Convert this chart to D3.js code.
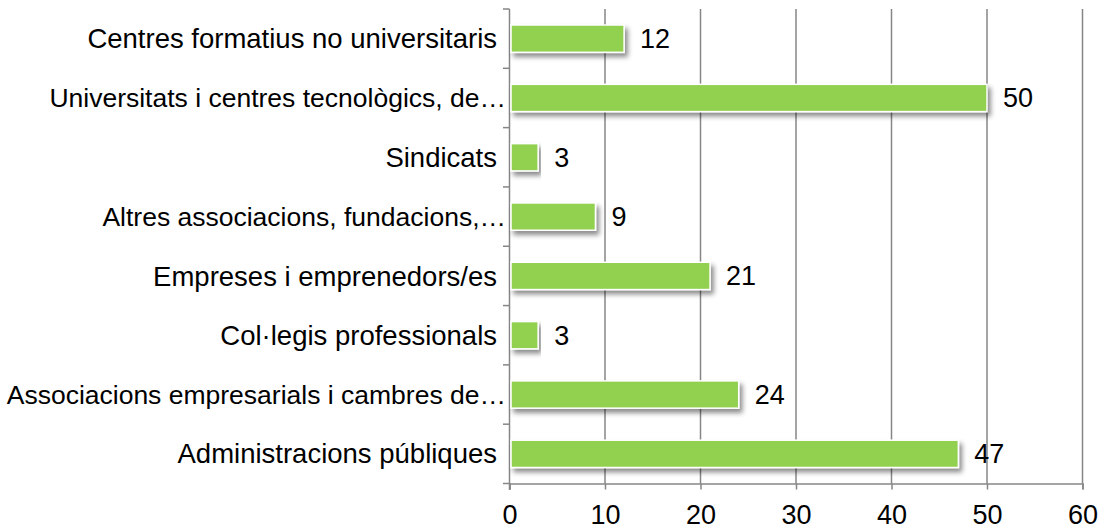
<!doctype html>
<html>
  <head>
    <meta charset="utf-8">
    <script src="https://cdn.jsdelivr.net/npm/d3@7"></script>
    <style>
      body { margin: 0; background: #fff; }
      text { font-family: "Liberation Sans", Arial, sans-serif; fill: #000; }
    </style>
  </head>
  <body>
    <svg width="1105" height="532"></svg>
    <script>
      const categories = [
        "Centres formatius no universitaris",
        "Universitats i centres tecnològics, de…",
        "Sindicats",
        "Altres associacions, fundacions,…",
        "Empreses i emprenedors/es",
        "Col·legis professionals",
        "Associacions empresarials i cambres de…",
        "Administracions públiques"
      ];
      const values = [12, 50, 3, 9, 21, 3, 24, 47];
      const xTicks = [0, 10, 20, 30, 40, 50, 60];

      const svg = d3.select("svg");
      const x = d3.scaleLinear().domain([0, 60]).range([509.5, 1082.5]);
      const y = d3.scaleBand().domain(categories).range([9, 483.5]).paddingInner(0.54).paddingOuter(0.27);

      const defs = svg.append("defs");
      const f = defs.append("filter").attr("id", "shadow")
        .attr("x", "-5%").attr("y", "-30%").attr("width", "115%").attr("height", "190%");
      f.append("feDropShadow").attr("dx", 3).attr("dy", 4).attr("stdDeviation", 2.5)
        .attr("flood-color", "#000").attr("flood-opacity", 0.45);

      // grid lines
      svg.append("g")
        .selectAll("line")
        .data(xTicks.slice(1))
        .enter()
        .append("line")
        .attr("x1", d => x(d)).attr("x2", d => x(d))
        .attr("y1", 9).attr("y2", 483.5)
        .style("stroke", "#868686").style("stroke-width", "1.5px");

      // x axis
      const xAxis = svg.append("g")
        .attr("transform", "translate(0,483.5)")
        .call(d3.axisBottom(x).tickValues(xTicks).tickSize(6).tickPadding(15));
      xAxis.select(".domain").attr("stroke", "#868686").attr("stroke-width", 1.5);
      xAxis.selectAll(".tick line").attr("stroke", "#868686").attr("stroke-width", 1.5);
      xAxis.selectAll("text").style("font-size", "27px").style("fill", "#000")
        .style("font-family", "Liberation Sans, Arial, sans-serif");

      // y axis
      const yEdges = categories.map(c => y(c) - y.step() * y.paddingInner() / 2).concat([483.5]);
      svg.append("g")
        .selectAll("line")
        .data(yEdges)
        .enter()
        .append("line")
        .attr("x1", 503).attr("x2", 509.5)
        .attr("y1", d => d).attr("y2", d => d)
        .style("stroke", "#868686").style("stroke-width", "1.5px");
      svg.append("line")
        .attr("x1", 509.5).attr("x2", 509.5).attr("y1", 9).attr("y2", 490)
        .style("stroke", "#868686").style("stroke-width", "1.5px");

      // bars
      svg.append("g")
        .selectAll("rect")
        .data(values)
        .enter()
        .append("rect")
        .attr("x", x(0) + 1.5)
        .attr("y", (d, i) => y(categories[i]))
        .attr("width", d => x(d) - x(0) - 1.5)
        .attr("height", y.bandwidth())
        .style("fill", "#92D050")
        .style("stroke", "#fff")
        .style("stroke-width", "1.5px")
        .attr("filter", "url(#shadow)");

      // value labels
      svg.append("g")
        .selectAll("text")
        .data(values)
        .enter()
        .append("text")
        .attr("x", d => x(d) + 16)
        .attr("y", (d, i) => y(categories[i]) + y.bandwidth() / 2)
        .attr("dy", "0.35em")
        .style("font-size", "27px")
        .text(d => d);

      // category labels
      svg.append("g")
        .selectAll("text")
        .data(categories)
        .enter()
        .append("text")
        .attr("x", d => d.endsWith("…") ? 506 : 497)
        .attr("y", d => y(d) + y.bandwidth() / 2)
        .attr("dy", "0.35em")
        .attr("text-anchor", "end")
        .style("font-size", d => d.endsWith("…") ? "26.5px" : "27.5px")
        .text(d => d);
    </script>
  </body>
</html>
